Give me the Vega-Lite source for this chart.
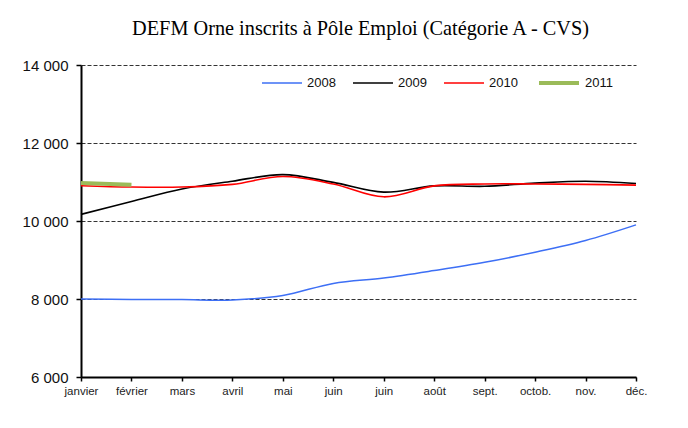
{
  "$schema": "https://vega.github.io/schema/vega-lite/v6.json",
  "width": 555,
  "height": 312,
  "padding": {"left": 22, "top": 18, "right": 20, "bottom": 10},
  "background": "white",
  "title": {
    "text": "DEFM Orne inscrits à Pôle Emploi (Catégorie A - CVS)",
    "font": "Liberation Serif",
    "fontSize": 20.3,
    "fontWeight": "normal",
    "color": "black",
    "anchor": "middle",
    "dx": 2,
    "offset": 19
  },
  "config": {
    "view": {"stroke": null},
    "font": "Liberation Sans"
  },
  "data": {
    "values": [
      {"m": 0, "mois": "janvier", "annee": "2008", "valeur": 8000},
      {"m": 1, "mois": "février", "annee": "2008", "valeur": 7990},
      {"m": 2, "mois": "mars", "annee": "2008", "valeur": 7985},
      {"m": 3, "mois": "avril", "annee": "2008", "valeur": 7975},
      {"m": 4, "mois": "mai", "annee": "2008", "valeur": 8090},
      {"m": 5, "mois": "juin", "annee": "2008", "valeur": 8400},
      {"m": 6, "mois": "juin", "annee": "2008", "valeur": 8540},
      {"m": 7, "mois": "août", "annee": "2008", "valeur": 8730},
      {"m": 8, "mois": "sept.", "annee": "2008", "valeur": 8940},
      {"m": 9, "mois": "octob.", "annee": "2008", "valeur": 9200},
      {"m": 10, "mois": "nov.", "annee": "2008", "valeur": 9500},
      {"m": 11, "mois": "déc.", "annee": "2008", "valeur": 9900},
      {"m": 0, "mois": "janvier", "annee": "2009", "valeur": 10170},
      {"m": 1, "mois": "février", "annee": "2009", "valeur": 10500},
      {"m": 2, "mois": "mars", "annee": "2009", "valeur": 10820},
      {"m": 3, "mois": "avril", "annee": "2009", "valeur": 11020},
      {"m": 4, "mois": "mai", "annee": "2009", "valeur": 11190},
      {"m": 5, "mois": "juin", "annee": "2009", "valeur": 10990},
      {"m": 6, "mois": "juin", "annee": "2009", "valeur": 10740},
      {"m": 7, "mois": "août", "annee": "2009", "valeur": 10900},
      {"m": 8, "mois": "sept.", "annee": "2009", "valeur": 10890},
      {"m": 9, "mois": "octob.", "annee": "2009", "valeur": 10970},
      {"m": 10, "mois": "nov.", "annee": "2009", "valeur": 11020},
      {"m": 11, "mois": "déc.", "annee": "2009", "valeur": 10960},
      {"m": 0, "mois": "janvier", "annee": "2010", "valeur": 10905},
      {"m": 1, "mois": "février", "annee": "2010", "valeur": 10870},
      {"m": 2, "mois": "mars", "annee": "2010", "valeur": 10870},
      {"m": 3, "mois": "avril", "annee": "2010", "valeur": 10940},
      {"m": 4, "mois": "mai", "annee": "2010", "valeur": 11140},
      {"m": 5, "mois": "juin", "annee": "2010", "valeur": 10950},
      {"m": 6, "mois": "juin", "annee": "2010", "valeur": 10620},
      {"m": 7, "mois": "août", "annee": "2010", "valeur": 10900},
      {"m": 8, "mois": "sept.", "annee": "2010", "valeur": 10950},
      {"m": 9, "mois": "octob.", "annee": "2010", "valeur": 10950},
      {"m": 10, "mois": "nov.", "annee": "2010", "valeur": 10940},
      {"m": 11, "mois": "déc.", "annee": "2010", "valeur": 10920},
      {"m": 0, "mois": "janvier", "annee": "2011", "valeur": 10975},
      {"m": 1, "mois": "février", "annee": "2011", "valeur": 10930}
    ]
  },
  "mark": {"type": "line", "interpolate": "catmull-rom", "clip": false},
  "encoding": {
    "x": {
      "field": "m",
      "type": "quantitative",
      "scale": {"domain": [0, 11], "nice": false, "zero": false},
      "axis": {
        "title": null,
        "values": [0, 1, 2, 3, 4, 5, 6, 7, 8, 9, 10, 11],
        "labelExpr": "['janvier','février','mars','avril','mai','juin','juin','août','sept.','octob.','nov.','déc.'][datum.value]",
        "grid": false,
        "domainColor": "black",
        "domainWidth": 2,
        "tickColor": "black",
        "tickSize": 4,
        "tickWidth": 1.5,
        "labelFontSize": 11.5,
        "labelColor": "#222",
        "labelPadding": 4,
        "labelFlush": false,
        "labelOverlap": false
      }
    },
    "y": {
      "field": "valeur",
      "type": "quantitative",
      "scale": {"domain": [6000, 14000], "nice": false, "zero": false},
      "axis": {
        "title": null,
        "values": [6000, 8000, 10000, 12000, 14000],
        "labelExpr": "replace(format(datum.value, ',d'), ',', ' ')",
        "grid": true,
        "gridDash": [4, 2],
        "gridColor": "#333",
        "gridWidth": 1,
        "domainColor": "black",
        "domainWidth": 2,
        "tickColor": "black",
        "tickSize": 5,
        "tickWidth": 1.5,
        "labelFontSize": 15,
        "labelColor": "#111",
        "labelPadding": 8
      }
    },
    "color": {
      "field": "annee",
      "type": "nominal",
      "scale": {
        "domain": ["2008", "2009", "2010", "2011"],
        "range": ["#3D6FF5", "#000000", "#FF0000", "#9BBB59"]
      },
      "legend": {
        "title": null,
        "orient": "none",
        "direction": "horizontal",
        "legendX": 180,
        "legendY": -4,
        "symbolType": "stroke",
        "symbolSize": 1600,
        "labelFontSize": 13,
        "labelColor": "#111",
        "labelOffset": 4,
        "columnPadding": 13,
        "padding": 0
      }
    },
    "strokeWidth": {
      "field": "annee",
      "type": "nominal",
      "scale": {
        "type": "ordinal",
        "domain": ["2008", "2009", "2010", "2011"],
        "range": [1.5, 1.6, 1.6, 4]
      },
      "legend": {
        "title": null,
        "orient": "none",
        "direction": "horizontal",
        "legendX": 180,
        "legendY": -4,
        "symbolType": "stroke",
        "symbolSize": 1600,
        "labelFontSize": 13,
        "labelColor": "#111",
        "labelOffset": 4,
        "columnPadding": 13,
        "padding": 0
      }
    }
  }
}
